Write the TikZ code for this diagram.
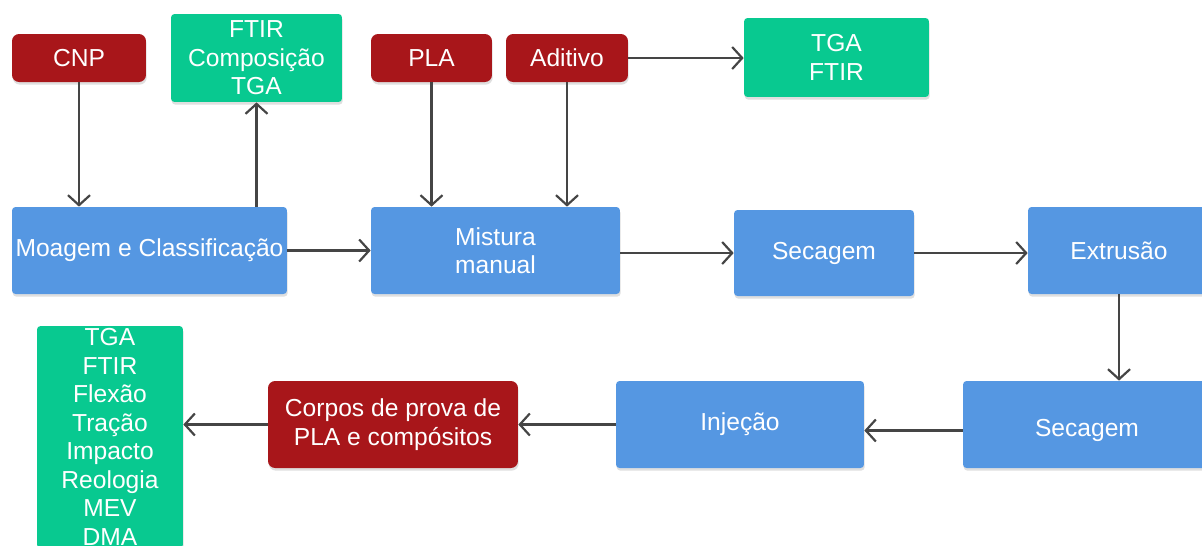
\documentclass[tikz,border=0pt]{standalone}
\usepackage{fontspec}
\setmainfont{Liberation Sans}
\usetikzlibrary{positioning, arrows.meta, shadows}

\definecolor{matred}{HTML}{A8161A}
\definecolor{testgreen}{HTML}{08C990}
\definecolor{stepblue}{HTML}{5597E2}
\definecolor{arrowgray}{HTML}{454545}

\tikzset{
  box/.style={text=white, align=center, inner sep=0pt,
    font=\fontsize{14}{16.2}\selectfont,
    drop shadow={opacity=0.25, shadow xshift=0.4pt, shadow yshift=-1.5pt}},
  redbox/.style={box, fill=matred, rounded corners=4pt},
  greenbox/.style={box, fill=testgreen, rounded corners=2pt},
  bluebox/.style={box, fill=stepblue, rounded corners=2pt},
  arrowline/.style={draw=arrowgray, line width=1.25pt,
    -{Straight Barb[length=2mm, width=4.4mm]}}
}

\begin{document}
\begin{tikzpicture}[x=0.02cm, y=-0.02cm]
            \useasboundingbox (0,0) rectangle (1202,545);

            \node [redbox, minimum width=2.68cm, minimum height=0.96cm] (cnp) at (79, 58) {CNP};
            \node [greenbox, minimum width=3.42cm, minimum height=1.76cm] (ftir) at (256.5, 58) {FTIR\\Composição\\TGA};
            \node [redbox, minimum width=2.42cm, minimum height=0.96cm] (pla) at (431.5, 58) {PLA};
            \node [redbox, minimum width=2.44cm, minimum height=0.96cm] (aditivo) at (567, 58) {Aditivo};
            \node [greenbox, minimum width=3.7cm, minimum height=1.58cm] (tgaftir) at (836.5, 57.5) {TGA\\FTIR};

            \node [bluebox, minimum width=5.5cm, minimum height=1.74cm] (moagem) at (149.5, 250.5) {Moagem e Classificação};
            \node [bluebox, minimum width=4.98cm, minimum height=1.74cm] (mistura) at (495.5, 250.5) {Mistura\\manual};
            \node [bluebox, minimum width=3.6cm, minimum height=1.72cm] (secagem) at (824, 253) {Secagem};
            \node [bluebox, minimum width=3.64cm, minimum height=1.74cm] (extrusao) at (1119, 250.5) {Extrusão};

            \node [bluebox, minimum width=4.96cm, minimum height=1.74cm] (secagemb) at (1087, 424.5) {Secagem\rule{0pt}{1.2em}};
            \node [bluebox, minimum width=4.96cm, minimum height=1.74cm] (injecao) at (740, 424.5) {Injeção};
            \node [redbox, minimum width=5.0cm, minimum height=1.74cm] (corpos) at (393, 424.5) {Corpos de prova de\\PLA e compósitos};
            \node [greenbox, minimum width=2.92cm, minimum height=4.44cm] (ensaios) at (110, 437) {TGA\\FTIR\\Flexão\\Tração\\Impacto\\Reologia\\MEV\\DMA};

            \draw [arrowline] (cnp.south) -- (cnp.south |- moagem.north);
            \draw [arrowline] (ftir.south |- moagem.north) -- (ftir.south);
            \draw [arrowline] (pla.south) -- (pla.south |- mistura.north);
            \draw [arrowline] (aditivo.south) -- (aditivo.south |- mistura.north);
            \draw [arrowline] (aditivo.east) -- (aditivo.east -| tgaftir.west);

            \draw [arrowline] (moagem.east) -- (mistura.west);
            \draw [arrowline] (mistura.east |- secagem.west) -- (secagem.west);
            \draw [arrowline] (secagem.east) -- (secagem.east -| extrusao.west);
            \draw [arrowline] (extrusao.south) -- (extrusao.south |- secagemb.north);

            \draw [arrowline] ([yshift=-0.12cm]secagemb.west) -- ([yshift=-0.12cm]secagemb.west -| injecao.east);
            \draw [arrowline] (injecao.west) -- (corpos.east);
            \draw [arrowline] (corpos.west) -- (corpos.west -| ensaios.east);
\end{tikzpicture}
\end{document}
